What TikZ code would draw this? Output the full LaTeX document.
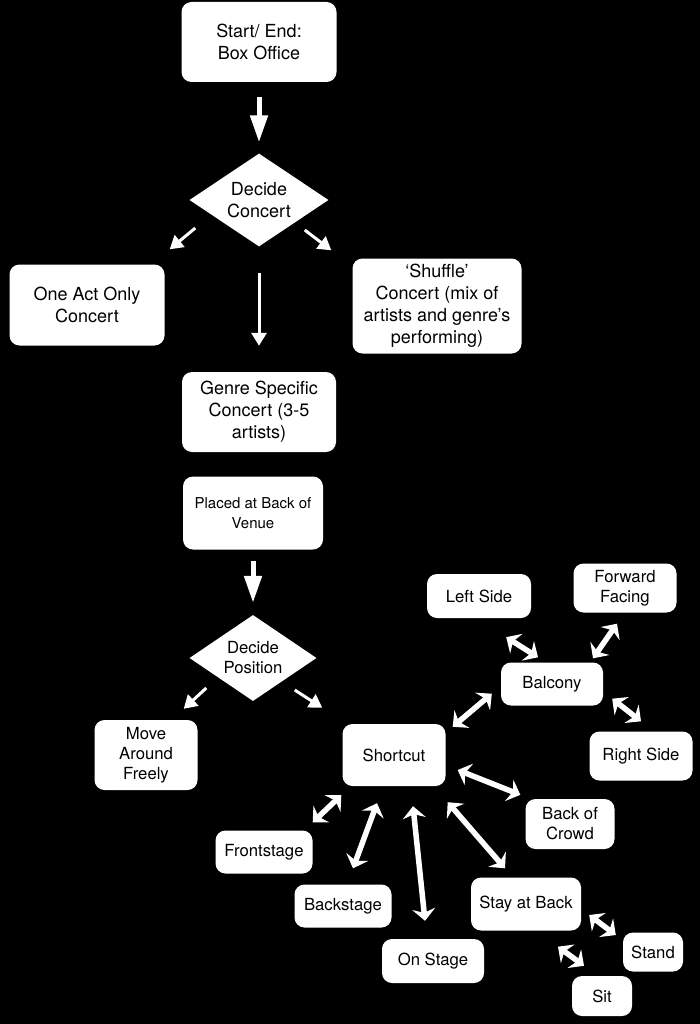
\documentclass[tikz,border=0pt]{standalone}
\usepackage{fontspec}
\setmainfont{TeX Gyre Heros}
\usetikzlibrary{shapes.geometric,arrows.meta}

\begin{document}
\begin{tikzpicture}[x=1pt,y=-1pt,
  box/.style={fill=white, rounded corners=10pt, align=center, inner sep=0pt, font=\fontsize{18}{22}\selectfont},
  sbox/.style={box, font=\fontsize{16.7}{20}\selectfont},
  dia/.style={diamond, fill=white, align=center, inner sep=0pt, aspect=1.45},
  bigarrow/.style={draw=white, line width=5pt, -{Triangle[length=27pt,width=17pt]}},
  smallarrow/.style={draw=white, line width=3pt, -{Triangle[length=13pt,width=15pt]}},
  twoway/.style={draw=white, line width=5.5pt, {Stealth[length=12pt,width=23pt,inset=4pt]}-{Stealth[length=12pt,width=23pt,inset=4pt]}}]
\fill[black] (0,0) rectangle (700,1024);
\node[box, minimum width=155pt, minimum height=80pt] (start) at (259,42) {Start/ End:\\Box Office};
\node[dia, font=\fontsize{18}{22}\selectfont, minimum width=139pt, minimum height=93pt] (dc) at (259,200) {Decide\\Concert};
\node[box, minimum width=155pt, minimum height=81pt] (oneact) at (87,305) {One Act Only\\Concert};
\node[box, minimum width=169pt, minimum height=95pt] (shuffle) at (437,306) {‘Shuffle’\\Concert (mix of\\artists and genre’s\\performing)};
\node[box, minimum width=154pt, minimum height=80pt] (genre) at (259,412) {Genre Specific\\Concert (3-5\\artists)};
\node[box, font=\fontsize{15}{20}\selectfont, minimum width=140pt, minimum height=73pt] (placed) at (253,513) {Placed at Back of\\Venue};
\node[dia, font=\fontsize{16.7}{20}\selectfont, minimum width=127pt, minimum height=86pt] (dp) at (253,658) {Decide\\Position};
\node[sbox, minimum width=103pt, minimum height=70pt] (move) at (146,755) {Move\\Around\\Freely};
\node[sbox, minimum width=103pt, minimum height=62pt] (shortcut) at (394,755) {Shortcut};
\node[sbox, minimum width=102pt, minimum height=43pt] (balcony) at (552,684) {Balcony};
\node[sbox, minimum width=104pt, minimum height=44pt] (leftside) at (479,596) {Left Side};
\node[sbox, minimum width=103pt, minimum height=49pt] (forward) at (625,588) {Forward\\Facing};
\node[sbox, minimum width=103pt, minimum height=49pt] (rightside) at (641,756) {Right Side};
\node[sbox, minimum width=89pt, minimum height=50pt] (crowd) at (570,824) {Back of\\Crowd};
\node[sbox, minimum width=97pt, minimum height=43pt] (front) at (264,852) {Frontstage};
\node[sbox, minimum width=97pt, minimum height=43pt] (backst) at (343,906) {Backstage};
\node[sbox, minimum width=102pt, minimum height=44pt] (onstage) at (433,961) {On Stage};
\node[sbox, minimum width=110pt, minimum height=53pt] (stay) at (526,904) {Stay at Back};
\node[sbox, minimum width=60pt, minimum height=39pt] (stand) at (653,952) {Stand};
\node[sbox, minimum width=60pt, minimum height=40pt] (sit) at (602,996) {Sit};
\draw[bigarrow, shorten <=15pt, shorten >=11pt] (start) -- (dc);
\draw[smallarrow] ([shift={(6,28)}]dc.west) -- ([shift={(5,-15)}]oneact.north east);
\draw[smallarrow] ([shift={(-24,30)}]dc.east) -- ([shift={(-21,-8)}]shuffle.north west);
\draw[smallarrow, shorten <=26pt, shorten >=26pt] (dc) -- (genre);
\draw[bigarrow, shorten <=11pt, shorten >=12pt] (placed) -- (dp);
\draw[smallarrow] ([shift={(17,30)}]dp.west) -- ([shift={(-14,-11)}]move.north east);
\draw[smallarrow] ([shift={(-22,32)}]dp.east) -- ([shift={(-20,-16)}]shortcut.north west);
\draw[twoway] ([shift={(7,3)}]shortcut.north east) -- ([shift={(-9,-12)}]balcony.south west);
\draw[twoway] ([shift={(-25,19)}]leftside.south east) -- ([shift={(-14,-5)}]balcony.north);
\draw[twoway] ([shift={(-8,11)}]forward.south) -- ([shift={(41,-4)}]balcony.north);
\draw[twoway] ([shift={(9,-7)}]balcony.south east) -- ([shift={(0,-10)}]rightside.north);
\draw[twoway] ([shift={(12,15)}]shortcut.east) -- ([shift={(-5,-4)}]crowd.north west);
\draw[twoway] ([shift={(2,16)}]shortcut.south east) -- ([shift={(-21,-9)}]stay.north);
\draw[twoway] ([shift={(19,20)}]shortcut.south) -- ([shift={(-8,-18)}]onstage.north);
\draw[twoway] ([shift={(-17,17)}]shortcut.south) -- ([shift={(10,-16)}]backst.north);
\draw[twoway] ([shift={(-1,9)}]shortcut.south west) -- ([shift={(0,-8)}]front.north east);
\draw[twoway] ([shift={(8,11)}]stay.east) -- ([shift={(-7,-17)}]stand.west);
\draw[twoway] ([shift={(32,16)}]stay.south) -- ([shift={(-18,-10)}]sit.north);
\end{tikzpicture}
\end{document}
